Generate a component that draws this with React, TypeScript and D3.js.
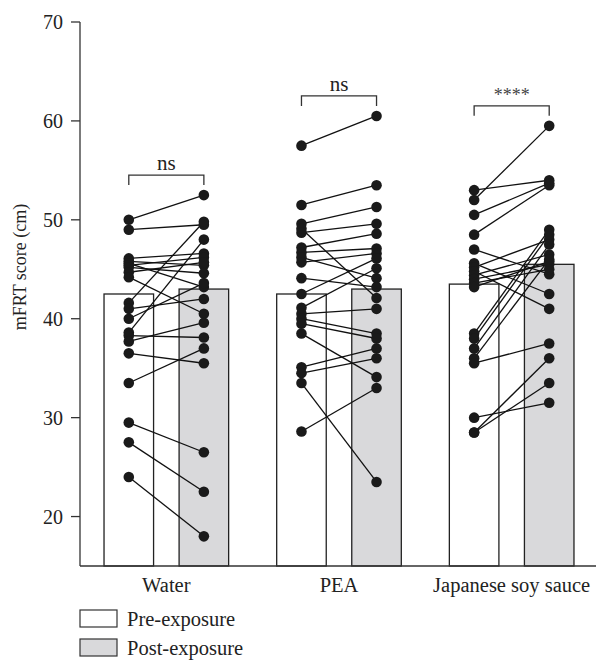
import * as d3 from "d3";

const groups = ["Water", "PEA", "Japanese soy sauce"];
const phases = ["Pre-exposure", "Post-exposure"];
const barPre = [42.5, 42.5, 43.5];
const barPost = [43, 43, 45.5];
const sigLabels = ["ns", "ns", "****"];
const yTicks = [20, 30, 40, 50, 60, 70];

// paired subject scores, index i of pre matches index i of post
const waterPre = [50, 49, 46.1, 45.8, 45.6, 45.4, 45.2, 44.7, 44.2, 41.6, 41.0, 40.0, 38.6, 38.3, 37.7, 36.5, 33.5, 29.5, 27.5, 24];
const waterPost = [52.5, 49.5, 46.6, 45.4, 43.2, 46.2, 44.6, 45.7, 40.5, 49.8, 42, 43.6, 48, 38.1, 39.6, 35.5, 37, 26.5, 22.5, 18];
const peaPre = [57.5, 51.5, 49.6, 49.1, 48.7, 47.2, 46.7, 46.2, 45.7, 44.1, 42.5, 41.1, 40.5, 40.0, 39.5, 38.5, 35.1, 34.5, 33.5, 28.6];
const peaPost = [60.5, 53.5, 51.3, 42.1, 49.6, 48.6, 47.1, 44.1, 46.6, 43.2, 46.1, 45.1, 41.0, 38.5, 38.0, 34.1, 37.0, 36.0, 23.5, 33.0];
const soyPre = [53, 52, 50.5, 48.5, 47, 45.6, 45.2, 44.8, 44.4, 44.0, 43.6, 43.2, 38.5, 38.0, 37.0, 36.0, 35.5, 30.0, 28.5, 28.5];
const soyPost = [54, 59.5, 53.7, 53.5, 44.5, 42.5, 48, 41, 46.5, 45.5, 45, 45.8, 49, 48.5, 47.5, 46, 37.5, 31.5, 33.5, 36];

const prePoints = [waterPre, peaPre, soyPre];
const postPoints = [waterPost, peaPost, soyPost];

const W = 596;
const H = 660;
const font = "'Liberation Serif', 'DejaVu Serif', serif";

export default function App() {
  const x = d3.scaleBand().domain(groups).range([80, 598]).padding(0);
  const sub = d3.scaleBand().domain(phases).range([0, x.bandwidth()]).paddingInner(0.34).paddingOuter(0.32);
  const y = d3.scaleLinear().domain([15, 70]).range([566, 22]);

  const preX = (g: string) => x(g)! + sub(phases[0])! + sub.bandwidth() / 2;
  const postX = (g: string) => x(g)! + sub(phases[1])! + sub.bandwidth() / 2;

  return (
    <svg width={W} height={H} style={{ position: "absolute", left: 0, top: 0, background: "#fff" }} fontFamily={font}>
      {/* bars */}
      {groups.map((g, i) => (
        <g key={g}>
          <rect x={x(g)! + sub(phases[0])!} y={y(barPre[i])} width={sub.bandwidth()} height={y(15) - y(barPre[i])}
            fill="#fff" stroke="#222" strokeWidth={1.3} />
          <rect x={x(g)! + sub(phases[1])!} y={y(barPost[i])} width={sub.bandwidth()} height={y(15) - y(barPost[i])}
            fill="#d9d9db" stroke="#222" strokeWidth={1.3} />
        </g>
      ))}

      {/* paired lines and dots */}
      {groups.map((g, i) => (
        <g key={g + "-pts"}>
          {prePoints[i].map((v, j) => (
            <line key={j} x1={preX(g)} y1={y(v)} x2={postX(g)} y2={y(postPoints[i][j])} stroke="#111" strokeWidth={1.3} />
          ))}
          {prePoints[i].map((v, j) => (
            <circle key={"a" + j} cx={preX(g)} cy={y(v)} r={5.3} fill="#1a1a1a" />
          ))}
          {postPoints[i].map((v, j) => (
            <circle key={"b" + j} cx={postX(g)} cy={y(v)} r={5.3} fill="#1a1a1a" />
          ))}
        </g>
      ))}

      {/* significance brackets */}
      {groups.map((g, i) => {
        const top = d3.max([...prePoints[i], ...postPoints[i]])!;
        const by = y(top) - 20;
        return (
          <g key={g + "-sig"}>
            <path d={`M${preX(g)},${by + 10}V${by}H${postX(g)}V${by + 10}`} fill="none" stroke="#333" strokeWidth={1.3} />
            <text x={(preX(g) + postX(g)) / 2} y={by - 5} textAnchor="middle" fontSize={sigLabels[i] === "ns" ? 21 : 18}
              fill={sigLabels[i] === "ns" ? "#222" : "#444"}>
              {sigLabels[i]}
            </text>
          </g>
        );
      })}

      {/* y axis */}
      <line x1={80} x2={80} y1={y(70)} y2={y(15)} stroke="#333" strokeWidth={1.3} />
      <line x1={80} x2={598} y1={y(15)} y2={y(15)} stroke="#333" strokeWidth={1.3} />
      {yTicks.map((t) => (
        <g key={t} transform={`translate(0,${y(t)})`}>
          <line x1={71} x2={80} stroke="#333" strokeWidth={1.3} />
          <text x={63} dy="0.35em" textAnchor="end" fontSize={20} fill="#222">{t}</text>
        </g>
      ))}
      <text transform="translate(20,267) rotate(-90)" textAnchor="middle" dy="0.35em" fontSize={18} fill="#222">
        mFRT score (cm)
      </text>

      {/* x labels */}
      {groups.map((g) => (
        <text key={g + "-lab"} x={x(g)! + x.bandwidth() / 2} y={592} textAnchor="middle" fontSize={20.5} fill="#222">{g}</text>
      ))}

      {/* legend */}
      {phases.map((p, i) => (
        <g key={p} transform={`translate(80,${610 + i * 29})`}>
          <rect width={37} height={17} fill={i === 0 ? "#fff" : "#d9d9db"} stroke="#333" strokeWidth={1.2} />
          <text x={47} y={8.5} dy="0.35em" fontSize={20.5} fill="#222">{p}</text>
        </g>
      ))}
    </svg>
  );
}
